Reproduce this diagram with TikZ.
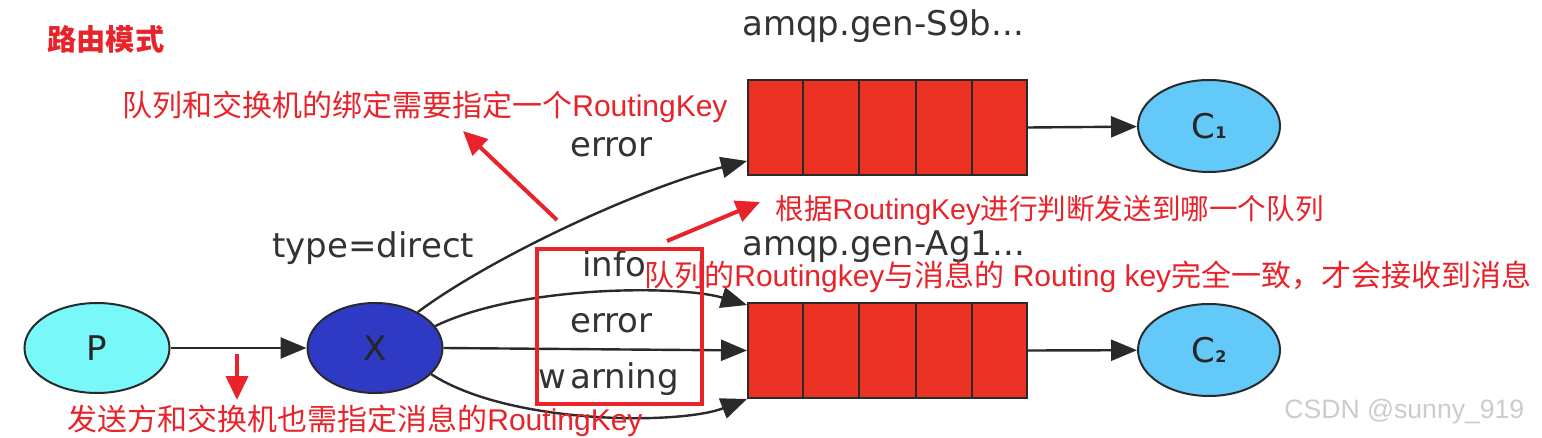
\documentclass[tikz,border=0pt]{standalone}
\usepackage{fontspec}
\setmainfont{Liberation Sans}
\newfontfamily\cjk{Noto Sans CJK SC}
\newfontfamily\lab{DejaVu Sans}
\usetikzlibrary{shapes.geometric,arrows.meta,calc}
\definecolor{pcol}{HTML}{78F8F8}
\definecolor{xcol}{HTML}{2E3AC4}
\definecolor{qcol}{HTML}{EA3123}
\definecolor{ccol}{HTML}{63C9F8}
\definecolor{ann}{HTML}{E8232A}
\definecolor{edgec}{HTML}{2A2A2A}
\tikzset{
  ell/.style={ellipse, draw=edgec, line width=1pt, inner sep=0pt,
    font=\lab\fontsize{17}{17}\selectfont, text=black!85},
  queue/.style={rectangle, draw=edgec, fill=qcol, line width=1pt,
    minimum width=139.5pt, minimum height=47.5pt, inner sep=0pt},
  cell/.style={draw=edgec, line width=1pt},
  conn/.style={draw=edgec, line width=1.2pt, -{Triangle[length=13pt,width=10.5pt]}},
  lbl/.style={font=\lab\fontsize{17}{17}\selectfont, text=black!80, inner sep=0pt, anchor=base west},
  note/.style={font=\fontsize{15}{15}\selectfont, text=ann, inner sep=0pt, anchor=west},
  redarrow/.style={draw=ann, line width=2pt, -{Triangle[length=12pt,width=11pt]}},
}
\begin{document}
\begin{tikzpicture}[x=0.5pt,y=-0.5pt]
\useasboundingbox (0,0) rectangle (1542,438);
\fill[white] (0,0) rectangle (1542,438);

% title
\node[font=\cjk\bfseries\fontsize{14.6}{14.6}\selectfont, text=ann, anchor=west, inner sep=0pt] (title) at (47,39) {路由模式};

% nodes
\node[ell, fill=pcol, minimum width=72.5pt, minimum height=45pt] (P) at (97,348) {P};
\node[ell, fill=xcol, minimum width=67.5pt, minimum height=45pt] (X) at (375,348) {X};
\node[queue] (q1) at (887.5,127.5) {};
\node[queue] (q2) at (887.5,350.5) {};
\foreach \q in {q1,q2}{
  \foreach \i in {1,...,4}{
    \draw[cell] ($(\q.south west)!\i/5!(\q.south east)$) -- ($(\q.north west)!\i/5!(\q.north east)$);
  }
}
\node[ell, fill=ccol, minimum width=71pt, minimum height=46pt] (C1) at (1209,126) {C{\fontsize{8}{8}\selectfont\bfseries 1}};
\node[ell, fill=ccol, minimum width=71pt, minimum height=46pt] (C2) at (1209,350) {C{\fontsize{8}{8}\selectfont\bfseries 2}};

% labels
\node[lbl] (l1) at (742,36) {amqp.gen-S9b...};
\node[lbl] (l2) at (742,256) {amqp.gen-Ag1...};
\node[lbl] (l3) at (272,257) {type=direct};
\node[lbl] (l4) at (570,157) {error};
\node[lbl] (l5) at (582,277) {info};
\node[lbl] (l6) at (570,332) {error};
\node[lbl] (l7) at (538,388) {w\kern2pt arning};

% connectors
\draw[conn] (P) -- (X);
\draw[conn] (X.40) .. controls (490,258) and (640,188) .. ([yshift=7.5pt]q1.south west);
\draw[conn] (X.20) .. controls (520,285) and (680,285) .. ([yshift=-1.5pt]q2.north west);
\draw[conn] (X.east) -- (q2.west);
\draw[conn] (X.-25) .. controls (510,425) and (680,425) .. (q2.south west);
\draw[conn] (q1.east) -- (C1);
\draw[conn] (q2.east) -- (C2);

% red box
\node[draw=ann, line width=1.6pt, minimum width=82.5pt, minimum height=77.5pt, inner sep=0pt] (rbox) at (619.5,326.5) {};

% annotations
\node[note] (n1) at (122,107) {{\cjk 队列和交换机的绑定需要指定一个}RoutingKey};
\node[note, font=\fontsize{14.3}{14.3}\selectfont] (n2) at (775,210) {{\cjk 根据}RoutingKey{\cjk 进行判断发送到哪一个队列}};
\node[note] (n3) at (644,277) {{\cjk 队列的}Routingkey{\cjk 与消息的} Routing key{\cjk 完全一致，才会接收到消息}};
\node[note] (n4) at (67,421) {{\cjk 发送方和交换机也需指定消息的}RoutingKey};

\coordinate (a1s) at (557,220);
\coordinate (a1e) at (463,131);
\coordinate (a2s) at (667,241);
\coordinate (a2e) at (760,202);
\coordinate (a3s) at (237,354);
\coordinate (a3e) at (237,400);
\draw[redarrow] (a1s) -- (a1e);
\draw[redarrow] (a2s) -- (a2e);
\draw[redarrow] (a3s) -- (a3e);

% watermark
\node[font=\fontsize{13.3}{13.3}\selectfont, text=black!20, anchor=base west, inner sep=0pt] (wm) at (1284,418) {CSDN @sunny\_919};
\end{tikzpicture}
\end{document}
